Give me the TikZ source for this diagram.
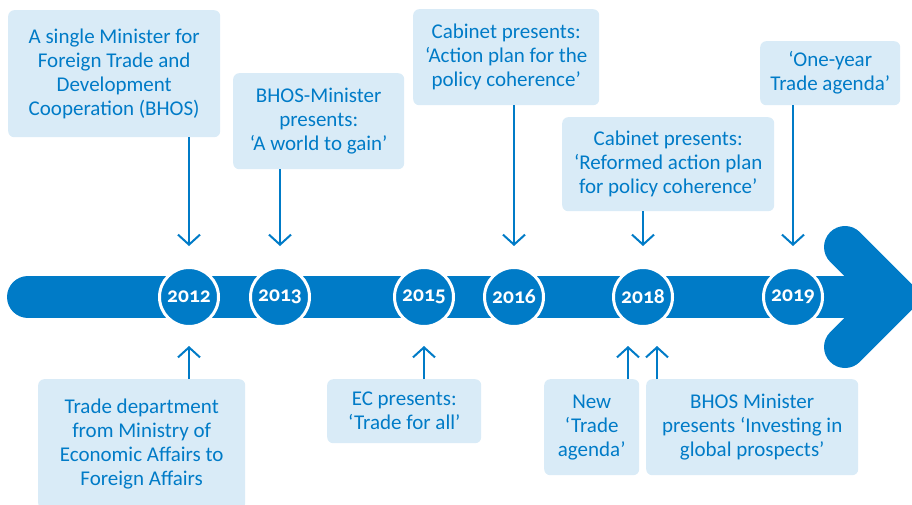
\documentclass[tikz,border=0pt]{standalone}
\usepackage{fontspec}
\setmainfont{Carlito}
\newfontfamily\yearfont[Numbers=OldStyle]{Carlito}
\usetikzlibrary{arrows.meta}
\definecolor{rijkblue}{RGB}{0,123,199}
\definecolor{boxblue}{RGB}{217,235,247}

\begin{document}
\begin{tikzpicture}[x=1pt, y=-1pt,
  event/.style={fill=boxblue, text=rijkblue, rounded corners=6pt, align=center,
    inner sep=0pt, anchor=north west, font=\fontsize{21}{24}\selectfont},
  year/.style={circle, fill=rijkblue, draw=white, line width=3pt, minimum size=59pt,
    inner sep=0pt, text=white, font=\yearfont\bfseries\fontsize{21.5}{21.5}\selectfont},
  conn/.style={draw=rijkblue, line width=2pt, -{Straight Barb[length=10pt,width=22pt]}}]
  \clip (0,0) rectangle (912,504);

  % timeline band
  \draw[rijkblue, line width=42pt, line cap=round] (28,297) -- (880,297);
  \draw[rijkblue, line width=42pt, line cap=round, line join=miter]
    (845,247) -- (895,297) -- (845,347);

  \node[year] (y12) at (189,297) {2012};
  \node[year] (y13) at (280,297) {2013};
  \node[year] (y15) at (424,297) {2015};
  \node[year] (y16) at (514,297) {2016};
  \node[year] (y18) at (643,297) {2018};
  \node[year] (y19) at (793,297) {2019};

  % above the line
  \node[event, minimum width=212pt, minimum height=127pt] (t1) at (8,10)
    {A single Minister for\\Foreign Trade and\\Development\\Cooperation (BHOS)};
  \node[event, minimum width=171pt, minimum height=96pt] (t2) at (233,73)
    {BHOS-Minister\\presents:\\‘A world to gain’};
  \node[event, minimum width=186pt, minimum height=96pt] (t3) at (413,9)
    {Cabinet presents:\\‘Action plan for the\\policy coherence’};
  \node[event, minimum width=212pt, minimum height=94pt] (t4) at (562,117)
    {Cabinet presents:\\‘Reformed action plan\\for policy coherence’};
  \node[event, minimum width=140pt, minimum height=64pt] (t5) at (760,41)
    {‘One-year\\Trade agenda’};

  % below the line
  \node[event, minimum width=207pt, minimum height=130pt] (b6) at (38,379)
    {Trade department\\from Ministry of\\Economic Affairs to\\Foreign Affairs};
  \node[event, minimum width=154pt, minimum height=64pt] (b7) at (327,379)
    {EC presents:\\‘Trade for all’};
  \node[event, minimum width=95pt, minimum height=96pt] (b8) at (544,379)
    {New\\‘Trade\\agenda’};
  \node[event, minimum width=212pt, minimum height=96pt] (b9) at (646,379)
    {BHOS Minister\\presents ‘Investing in\\global prospects’};

  \coordinate (n18) at ([xshift=-15pt,yshift=-18pt]y18.south);
  \coordinate (i18) at ([xshift=14pt,yshift=-18pt]y18.south);

  \draw[conn] (t1.south -| y12) -- ([yshift=20pt]y12.north);
  \draw[conn] (t2.south -| y13) -- ([yshift=20pt]y13.north);
  \draw[conn] (t3.south -| y16) -- ([yshift=20pt]y16.north);
  \draw[conn] (t4.south -| y18) -- ([yshift=20pt]y18.north);
  \draw[conn] (t5.south -| y19) -- ([yshift=20pt]y19.north);
  \draw[conn] (b6.north -| y12) -- ([yshift=-18pt]y12.south);
  \draw[conn] (b7.north -| y15) -- ([yshift=-18pt]y15.south);
  \draw[conn] (b8.north -| n18) -- (n18);
  \draw[conn] (b9.north -| i18) -- (i18);
\end{tikzpicture}
\end{document}
